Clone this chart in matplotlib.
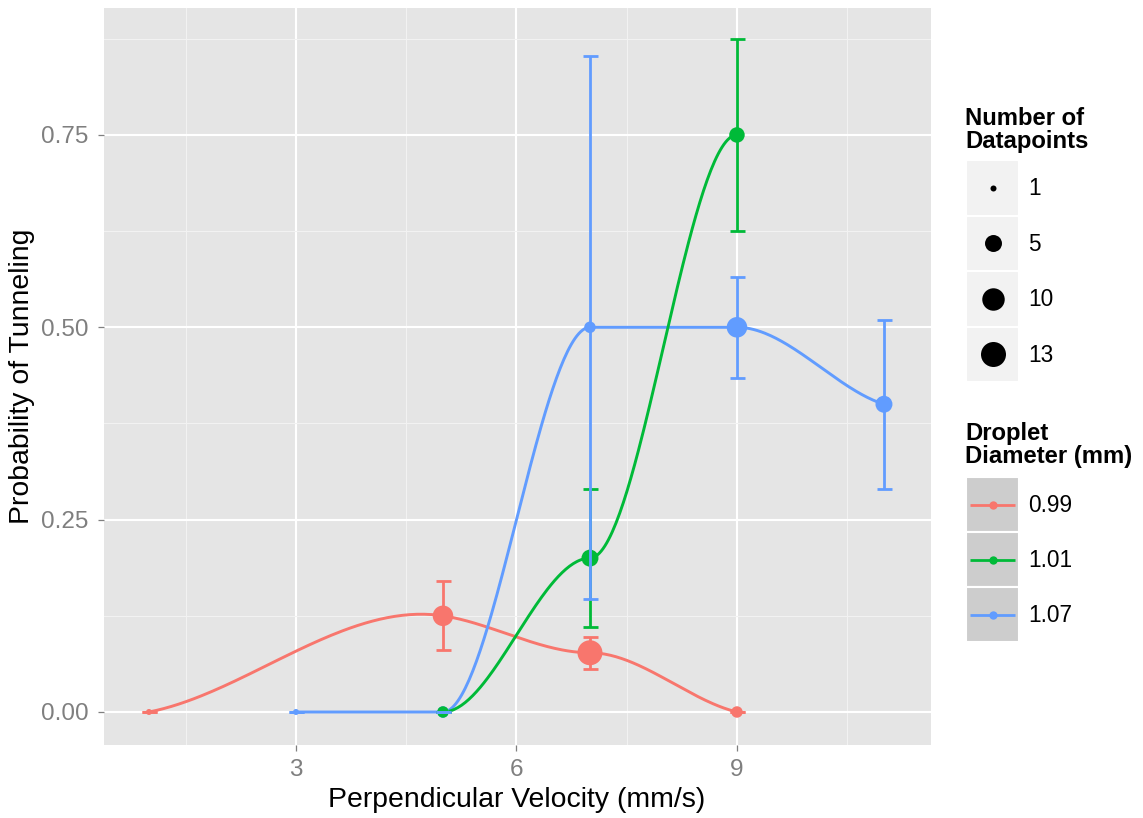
import numpy as np
import matplotlib
matplotlib.use("Agg")
import matplotlib.pyplot as plt
from matplotlib.patches import Rectangle

plt.rcParams['font.family'] = ['Liberation Sans', 'DejaVu Sans']

# ---------------------------------------------------------------- data
diameter_labels = ['0.99', '1.01', '1.07']
series_colors = ['#F8766D', '#00BA38', '#619CFF']

velocity_099 = [1, 5, 7, 9]
prob_099 = [0.0, 0.125, 0.077, 0.0]
err_099 = [0.0, 0.045, 0.021, 0.0]
count_099 = [1, 8, 13, 2]

velocity_101 = [5, 7, 9]
prob_101 = [0.0, 0.2, 0.75]
err_101 = [0.0, 0.09, 0.125]
count_101 = [2, 5, 4]

velocity_107 = [3, 5, 7, 9, 11]
prob_107 = [0.0, 0.0, 0.5, 0.5, 0.4]
err_107 = [0.0, 0.0, 0.353, 0.066, 0.11]
count_107 = [1, 2, 2, 8, 5]

size_breaks = [1, 5, 10, 13]
x_ticks = [3, 6, 9]
y_ticks = [0.0, 0.25, 0.5, 0.75]
y_tick_labels = ['0.00', '0.25', '0.50', '0.75']

series = [
    (velocity_099, prob_099, err_099, count_099),
    (velocity_101, prob_101, err_101, count_101),
    (velocity_107, prob_107, err_107, count_107),
]

# ---------------------------------------------------------------- helpers
W, H, DPI = 1143, 818, 100
PX2PT = 72.0 / DPI

all_counts = np.concatenate([count_099, count_101, count_107])
n_lo, n_hi = all_counts.min(), all_counts.max()


def marker_area(n):
    """Point area (pt^2): diameter grows with sqrt of the count."""
    n = np.asarray(n, dtype=float)
    size = 1 + 5 * np.sqrt((n - n_lo) / (n_hi - n_lo))
    diam_px = 3.8 * size + 2.2
    return (diam_px * PX2PT) ** 2


def local_slopes(x, y, span=0.75, damp=0.6):
    """Slopes from tricube-weighted local linear fits (loess-like)."""
    x = np.asarray(x, float)
    y = np.asarray(y, float)
    q = int(np.floor(len(x) * span))
    out = []
    for xi in x:
        d = np.abs(x - xi)
        bw = np.sort(d)[q - 1]
        w = np.clip(1 - (d / bw) ** 3, 0, None) ** 3 if bw > 0 else (d == 0).astype(float)
        keep = w > 1e-12
        if keep.sum() < 2:
            out.append(0.0)
            continue
        xs, ys, ws = x[keep], y[keep], w[keep]
        xm = np.sum(ws * xs) / ws.sum()
        ym = np.sum(ws * ys) / ws.sum()
        out.append(np.sum(ws * (xs - xm) * (ys - ym)) / np.sum(ws * (xs - xm) ** 2))
    return damp * np.array(out)


def smooth_curve(x, y, per_seg=80):
    x = np.asarray(x, float)
    y = np.asarray(y, float)
    m = local_slopes(x, y)
    xs, ys = [], []
    for k in range(len(x) - 1):
        h = x[k + 1] - x[k]
        t = np.linspace(0, 1, per_seg)
        h00 = 2 * t**3 - 3 * t**2 + 1
        h10 = t**3 - 2 * t**2 + t
        h01 = -2 * t**3 + 3 * t**2
        h11 = t**3 - t**2
        xs.append(x[k] + h * t)
        ys.append(h00 * y[k] + h10 * h * m[k] + h01 * y[k + 1] + h11 * h * m[k + 1])
    return np.concatenate(xs), np.concatenate(ys)


# ---------------------------------------------------------------- figure
fig = plt.figure(figsize=(W / DPI, H / DPI), dpi=DPI)
fig.patch.set_facecolor('white')

pl, pr, pt, pb = 104, 931, 8, 745
ax = fig.add_axes([pl / W, (H - pb) / H, (pr - pl) / W, (pb - pt) / H])
ax.set_facecolor('#E5E5E5')
for s in ax.spines.values():
    s.set_visible(False)
ax.set_xlim(0.388, 11.64)
ax.set_ylim(-0.0429, 0.915)

ax.set_xticks(x_ticks)
ax.set_xticklabels([str(v) for v in x_ticks])
ax.set_yticks(y_ticks)
ax.set_yticklabels(y_tick_labels)
ax.set_xticks([1.5, 4.5, 7.5, 10.5], minor=True)
ax.set_yticks([0.125, 0.375, 0.625, 0.875], minor=True)
ax.grid(which='major', color='white', linewidth=1.5)
ax.grid(which='minor', color='#F2F2F2', linewidth=0.75)
ax.set_axisbelow(True)
ax.tick_params(which='major', length=4.3, width=0.9, color='#7F7F7F',
               labelcolor='#7F7F7F', labelsize=17.5)
ax.tick_params(axis='y', which='major', pad=7)
ax.tick_params(axis='x', which='major', pad=6)
ax.tick_params(which='minor', length=0)

line_z = [2.0, 2.2, 2.1]
point_z = [3.0, 3.2, 3.1]
bar_z = [4.0, 4.1, 4.2]

for (vx, vy, ve, vn), col, lz, pz, bz in zip(series, series_colors, line_z, point_z, bar_z):
    cx, cy = smooth_curve(vx, vy)
    ax.plot(cx, cy, color=col, linewidth=2.1, zorder=lz, solid_capstyle='butt')
    ax.scatter(vx, vy, s=marker_area(vn), color=col, linewidths=0, zorder=pz)
    ax.errorbar(vx, vy, yerr=ve, fmt='none', ecolor=col, elinewidth=2.0,
                capsize=5.4, capthick=2.0, zorder=bz)

# axis titles
fig.text(517 / W, 1 - 800 / H, 'Perpendicular Velocity (mm/s)', ha='center',
         va='center', fontsize=20.4)
fig.text(22 / W, 1 - 376 / H, 'Probability of Tunneling', ha='center',
         va='center', rotation=90, fontsize=20.4)

# ---------------------------------------------------------------- legends
lax = fig.add_axes([0, 0, 1, 1])
lax.set_xlim(0, W)
lax.set_ylim(H, 0)
lax.axis('off')
lax.patch.set_alpha(0)

key_x, key_w, key_h = 966, 53, 55.5
lax.text(965, 130, 'Number of\nDatapoints', ha='left', va='center',
         fontsize=17.2, fontweight='bold', linespacing=1.05)
for i, v in enumerate(size_breaks):
    top = 160 + key_h * i
    lax.add_patch(Rectangle((key_x, top), key_w, key_h, facecolor='#F2F2F2',
                            edgecolor='white', linewidth=1.5))
    lax.scatter([key_x + key_w / 2], [top + key_h / 2], s=marker_area(v),
                color='black', linewidths=0)
    lax.text(1028, top + key_h / 2 + 1, str(v), ha='left', va='center', fontsize=16.3)

lax.text(965, 445, 'Droplet\nDiameter (mm)', ha='left', va='center',
         fontsize=17.2, fontweight='bold', linespacing=1.05)
for i, (lab, col) in enumerate(zip(diameter_labels, series_colors)):
    top = 477 + 55 * i
    lax.add_patch(Rectangle((key_x, top), key_w, 55, facecolor='#CDCDCD',
                            edgecolor='white', linewidth=1.5))
    cy = top + 27.5
    lax.plot([970, 1015], [cy, cy], color=col, linewidth=2.0, solid_capstyle='butt')
    lax.plot([key_x + key_w / 2], [cy], 'o', color=col, markersize=6, markeredgewidth=0)
    lax.text(1028, cy + 1, lab, ha='left', va='center', fontsize=16.3)

fig.savefig('out.png', dpi=DPI)
